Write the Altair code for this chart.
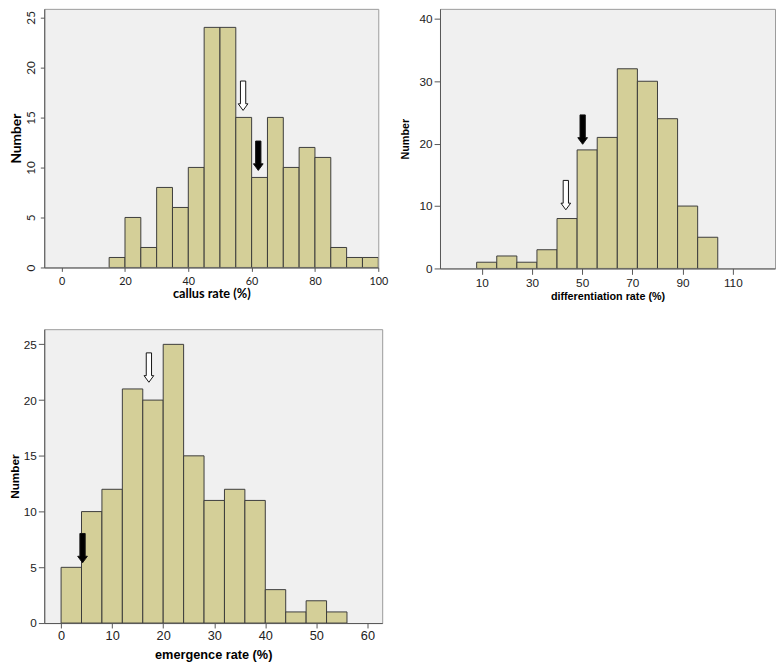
import altair as alt
import pandas as pd

# ---------------- data ----------------
# Panel 1: callus rate (bins of width 5)
callus_bin_start = [15, 20, 25, 30, 35, 40, 45, 50, 55, 60, 65, 70, 75, 80, 85, 90, 95]
callus_count = [1, 5, 2, 8, 6, 10, 24, 24, 15, 9, 15, 10, 12, 11, 2, 1, 1]
callus_bin_width = 5
callus_arrow_x = [57.3, 62.1]
callus_arrow_tip = [15.7, 9.7]
callus_arrow_kind = ["open", "filled"]
callus_x_ticks = [0, 20, 40, 60, 80, 100]
callus_y_ticks = [0, 5, 10, 15, 20, 25]

# Panel 2: differentiation rate (bins of width 8)
diff_bin_start = [8, 16, 24, 32, 40, 48, 56, 64, 72, 80, 88, 96]
diff_count = [1, 2, 1, 3, 8, 19, 21, 32, 30, 24, 10, 5]
diff_bin_width = 8
diff_arrow_x = [50.2, 43.5]
diff_arrow_tip = [19.9, 9.4]
diff_arrow_kind = ["filled", "open"]
diff_x_ticks = [10, 30, 50, 70, 90, 110]
diff_y_ticks = [0, 10, 20, 30, 40]

# Panel 3: emergence rate (bins of width 4)
emerg_bin_start = [0, 4, 8, 12, 16, 20, 24, 28, 32, 36, 40, 44, 48, 52]
emerg_count = [5, 10, 12, 21, 20, 25, 15, 11, 12, 11, 3, 1, 2, 1]
emerg_bin_width = 4
emerg_arrow_x = [17.2, 4.2]
emerg_arrow_tip = [21.6, 5.4]
emerg_arrow_kind = ["open", "filled"]
emerg_x_ticks = [0, 10, 20, 30, 40, 50, 60]
emerg_y_ticks = [0, 5, 10, 15, 20, 25]

# ---------------- styling ----------------
BAR_FILL = "#d4cf98"
BAR_EDGE = "#3a3a3a"
# downward arrow, tip at the anchor point
ARROW = "M -0.18 -2 L 0.18 -2 L 0.18 -0.45 L 0.33 -0.45 L 0 0 L -0.33 -0.45 L -0.18 -0.45 Z"


def panel(starts, counts, bw, ax, ay, akind, xdom, ydom, w, h, xaxis, yaxis):
    bars_df = pd.DataFrame({"start": starts,
                            "end": [s + bw for s in starts],
                            "count": counts})
    arr_df = pd.DataFrame({"ax": ax, "ay": ay, "kind": akind})
    xs = alt.Scale(domain=xdom, nice=False, zero=False)
    ys = alt.Scale(domain=ydom, nice=False)
    bars = alt.Chart(bars_df).mark_bar(
        fill=BAR_FILL, stroke=BAR_EDGE, strokeWidth=1, clip=True
    ).encode(
        x=alt.X("start:Q", scale=xs, axis=xaxis),
        x2="end:Q",
        y=alt.Y("count:Q", scale=ys, axis=yaxis),
        y2=alt.datum(0),
    )
    arrows = alt.Chart(arr_df).mark_point(
        shape=ARROW, size=900, filled=True, stroke="#111111",
        strokeWidth=1, opacity=1
    ).encode(
        x=alt.X("ax:Q", scale=xs, axis=xaxis),
        y=alt.Y("ay:Q", scale=ys, axis=yaxis),
        fill=alt.Fill("kind:N", scale=alt.Scale(domain=["open", "filled"],
                                                range=["#ffffff", "#000000"]),
                      legend=None),
    )
    return alt.layer(bars, arrows).properties(width=w, height=h)


common = dict(grid=False, labelOverlap=False, labelFlush=False,
              domainColor="#555555", tickColor="#555555", labelColor="#222222",
              titleColor="#000000", titleFontWeight="bold")

p1 = panel(
    callus_bin_start, callus_count, callus_bin_width,
    callus_arrow_x, callus_arrow_tip, callus_arrow_kind,
    [-5.5, 100], [0, 25.85], 341, 264,
    alt.Axis(values=callus_x_ticks, title="callus rate (%)", titleFont="Lato",
             titleFontSize=13, labelFont="Lato", labelFontSize=11, tickSize=4,
             labelPadding=4, titlePadding=2, **common),
    alt.Axis(values=callus_y_ticks, title="Number", titleFont="Lato",
             titleFontSize=14, labelFont="Lato", labelFontSize=12, tickSize=4,
             labelAngle=270, labelAlign="center", labelBaseline="bottom",
             labelPadding=3, titlePadding=1, **common),
)

p2 = panel(
    diff_bin_start, diff_count, diff_bin_width,
    diff_arrow_x, diff_arrow_tip, diff_arrow_kind,
    [-6.6, 126.8], [0, 41.6], 342, 265,
    alt.Axis(values=diff_x_ticks, title="differentiation rate (%)",
             titleFont="Liberation Sans", titleFontSize=11,
             labelFont="Liberation Sans", labelFontSize=12, tickSize=6,
             labelPadding=3, titlePadding=3, **common),
    alt.Axis(values=diff_y_ticks, title="Number",
             titleFont="Liberation Sans", titleFontSize=11,
             labelFont="Liberation Sans", labelFontSize=12, tickSize=6,
             labelPadding=2, titlePadding=9, **common),
)

p3 = panel(
    emerg_bin_start, emerg_count, emerg_bin_width,
    emerg_arrow_x, emerg_arrow_tip, emerg_arrow_kind,
    [-3.3, 62.9], [0, 26.36], 345, 300,
    alt.Axis(values=emerg_x_ticks, title="emergence rate (%)",
             titleFont="Liberation Sans", titleFontSize=13,
             labelFont="Liberation Sans", labelFontSize=13, tickSize=5,
             labelPadding=2, titlePadding=6, **common),
    alt.Axis(values=emerg_y_ticks, title="Number",
             titleFont="Liberation Sans", titleFontSize=12,
             labelFont="Liberation Sans", labelFontSize=12, tickSize=6,
             labelPadding=2, titlePadding=2, **common),
)

top = alt.hconcat(p1, p2, spacing=10)
chart = alt.vconcat(top, p3, spacing=26).properties(
    padding={"left": 0, "top": -7, "right": 0, "bottom": 0}
).configure_view(
    fill="#f0f0f0", stroke="#9a9a9a", strokeWidth=1
)

chart.save("out.html", embed_options={"renderer": "svg", "actions": False})
